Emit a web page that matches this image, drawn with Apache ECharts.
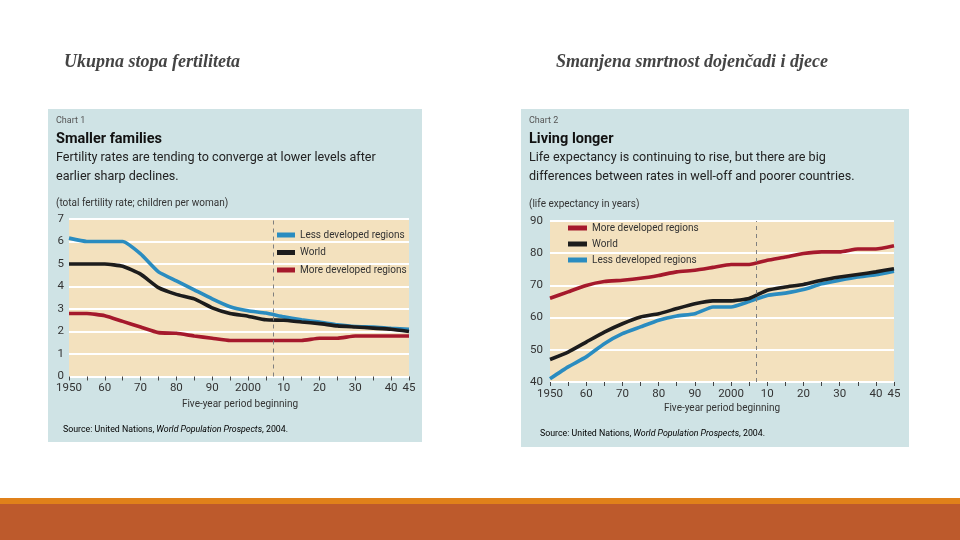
<!DOCTYPE html>
<html><head><meta charset="utf-8">
<script src="https://cdn.jsdelivr.net/npm/echarts@6/dist/echarts.min.js"></script>
<style>html,body{margin:0;padding:0;background:#fff}#c{width:960px;height:540px}</style>
</head><body><div id="c"></div><script>
// ---- data ----
const years = [1950,1955,1960,1965,1970,1975,1980,1985,1990,1995,2000,2005,2010,2015,2020,2025,2030,2035,2040,2045];
const fertLess  = [6.15,6.0,6.0,6.0,5.45,4.65,4.25,3.85,3.45,3.1,2.92,2.82,2.65,2.52,2.42,2.3,2.22,2.2,2.14,2.1];
const fertWorld = [5.0,5.0,5.0,4.9,4.55,3.95,3.65,3.45,3.05,2.8,2.68,2.52,2.5,2.42,2.35,2.25,2.2,2.15,2.1,2.0];
const fertMore  = [2.8,2.8,2.7,2.45,2.2,1.95,1.92,1.8,1.7,1.6,1.6,1.6,1.6,1.6,1.7,1.7,1.8,1.8,1.8,1.8];
const lifeMore  = [66,68,70,71.2,71.6,72.2,73.1,74.2,74.7,75.6,76.5,76.5,77.8,78.8,79.9,80.4,80.4,81.3,81.3,82.3];
const lifeWorld = [47,49.3,52.4,55.5,58.1,60.2,61.2,62.8,64.3,65.2,65.2,65.9,68.5,69.5,70.3,71.6,72.6,73.4,74.2,75.2];
const lifeLess  = [41,44.7,47.8,51.9,55,57.1,59.2,60.5,61.2,63.3,63.3,65,66.9,67.6,68.7,70.5,71.6,72.6,73.3,74.4];
const projectionStart = 2007;
const nameLess = 'Less developed regions', nameWorld = 'World', nameMore = 'More developed regions';

const pairs = v => years.map((y, i) => [y, v[i]]);
const F = "'Liberation Sans Narrow','Roboto',sans-serif";
const cBlue = '#2a8cc0', cBlack = '#1c1c1c', cRed = '#a5192c';

function xLabel(v){
  if (v === 1950 || v === 2000) return String(v);
  if (v % 10 === 0 || v === 2045) return String(v % 100).padStart(2,'0');
  return '';
}
function xAxis(gi){
  return {type:'value', gridIndex:gi, min:1950, max:2045, interval:5,
    axisLine:{show:false}, splitLine:{show:false},
    axisTick:{show:true, length:4, lineStyle:{color:'#444', width:1}},
    axisLabel:{formatter:xLabel, color:'#333', fontFamily:F, fontSize:11.5, margin:6, showMinLabel:true, showMaxLabel:true}};
}
function yAxis(gi, min, max, interval, margin){
  return {type:'value', gridIndex:gi, min:min, max:max, interval:interval,
    axisLine:{show:false}, axisTick:{show:false},
    splitLine:{show:true, lineStyle:{color:'#ffffff', width:2}},
    axisLabel:{color:'#333', fontFamily:F, fontSize:11.5, margin:margin}};
}
function line(name, data, color, gi, mark){
  const s = {type:'line', name:name, xAxisIndex:gi, yAxisIndex:gi, data:pairs(data),
    showSymbol:false, symbol:'none', smooth:0.15, lineStyle:{color:color, width:3.6}, itemStyle:{color:color}, z:3};
  if (mark) s.markLine = {silent:true, symbol:'none', label:{show:false},
    lineStyle:{type:[4,4], color:'#7f7f7f', width:1}, data:[{xAxis:projectionStart}]};
  return s;
}
function txt(x, y, text, size, opts){
  return Object.assign({type:'text', x:x, y:y, z:100,
    style:Object.assign({text:text, font:(opts&&opts.weight||'normal')+' '+size+'px '+F, fill:'#2a2a2a', textVerticalAlign:'middle'}, opts&&opts.style||{})}, opts&&opts.el||{});
}
const legendText = {fontFamily:F, fontSize:10, color:'#333'};
const srcRich = {a:{fontFamily:F, fontSize:8.8, color:'#333'}, b:{fontFamily:F, fontSize:8.8, fontStyle:'italic', color:'#333'}};

const chart = echarts.init(document.getElementById('c'), null, {renderer:'canvas'});
chart.setOption({
  animation:false,
  backgroundColor:'#ffffff',
  grid:[
    {left:69, top:219, width:340, height:157.5, show:true, backgroundColor:'#f3e1be', borderWidth:0},
    {left:550, top:221, width:344, height:161, show:true, backgroundColor:'#f3e1be', borderWidth:0}
  ],
  xAxis:[xAxis(0), xAxis(1)],
  yAxis:[yAxis(0,0,7,1,5), yAxis(1,40,90,10,7)],
  legend:[
    {left:277, top:230, padding:0, orient:'vertical', icon:'rect', itemWidth:18, itemHeight:5, itemGap:7.5,
     textStyle:legendText, data:[nameLess, nameWorld, nameMore], selectedMode:false},
    {left:568, top:223, padding:0, orient:'vertical', icon:'rect', itemWidth:19, itemHeight:5, itemGap:6,
     textStyle:legendText, data:[nameMore, nameWorld, nameLess], selectedMode:false}
  ],
  series:[
    line(nameMore, fertMore, cRed, 0, true),
    line(nameLess, fertLess, cBlue, 0),
    line(nameWorld, fertWorld, cBlack, 0),
    line(nameLess, lifeLess, cBlue, 1, true),
    line(nameWorld, lifeWorld, cBlack, 1),
    line(nameMore, lifeMore, cRed, 1)
  ],
  graphic:[
    {type:'rect', z:-10, shape:{x:48, y:109, width:374, height:333}, style:{fill:'#cfe3e5'}},
    {type:'rect', z:-10, shape:{x:521, y:109, width:388, height:338}, style:{fill:'#cfe3e5'}},
    {type:'rect', z:-10, shape:{x:0, y:498, width:960, height:6}, style:{fill:'#e0811a'}},
    {type:'rect', z:-10, shape:{x:0, y:504, width:960, height:36}, style:{fill:'#bd5a2c'}},
    {type:'text', x:64, y:62, z:100, style:{text:'Ukupna stopa fertiliteta', font:'italic bold 18px "Liberation Serif",serif', fill:'#444', textVerticalAlign:'middle'}},
    {type:'text', x:556, y:62, z:100, style:{text:'Smanjena smrtnost dojenčadi i djece', font:'italic bold 18px "Liberation Serif",serif', fill:'#444', textVerticalAlign:'middle'}},
    // chart 1 header
    txt(56, 121, 'Chart 1', 9, {style:{fill:'#555'}}),
    txt(56, 139, 'Smaller families', 14.5, {weight:'bold', style:{fill:'#111'}}),
    txt(56, 158, 'Fertility rates are tending to converge at lower levels after', 12.6, {style:{fill:'#222'}}),
    txt(56, 177, 'earlier sharp declines.', 12.6, {style:{fill:'#222'}}),
    txt(56, 203, '(total fertility rate; children per woman)', 10, {style:{fill:'#333'}}),
    {type:'text', x:240, y:404, z:100, style:{text:'Five-year period beginning', font:'normal 10px '+F, fill:'#333', textAlign:'center', textVerticalAlign:'middle'}},
    {type:'text', x:63, y:430, z:100, style:{text:'{a|Source: United Nations, }{b|World Population Prospects}{a|, 2004.}', textVerticalAlign:'middle', rich:srcRich}},
    // chart 2 header
    txt(529, 121, 'Chart 2', 9, {style:{fill:'#555'}}),
    txt(529, 139, 'Living longer', 14.5, {weight:'bold', style:{fill:'#111'}}),
    txt(529, 158, 'Life expectancy is continuing to rise, but there are big', 12.6, {style:{fill:'#222'}}),
    txt(529, 177, 'differences between rates in well-off and poorer countries.', 12.6, {style:{fill:'#222'}}),
    txt(529, 204, '(life expectancy in years)', 10, {style:{fill:'#333'}}),
    {type:'text', x:722, y:408, z:100, style:{text:'Five-year period beginning', font:'normal 10px '+F, fill:'#333', textAlign:'center', textVerticalAlign:'middle'}},
    {type:'text', x:540, y:434, z:100, style:{text:'{a|Source: United Nations, }{b|World Population Prospects}{a|, 2004.}', textVerticalAlign:'middle', rich:srcRich}}
  ]
});
</script></body></html>
